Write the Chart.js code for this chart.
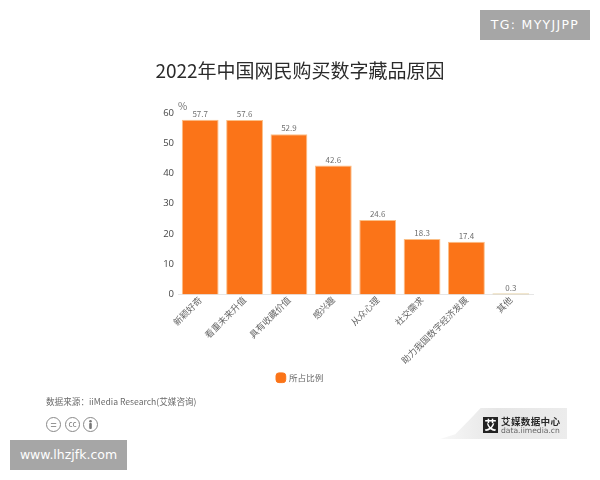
<!DOCTYPE html>
<html>
<head>
<meta charset="utf-8">
<script src="https://cdn.jsdelivr.net/npm/chart.js@4.4.1/dist/chart.umd.min.js"></script>
<style>
  html, body { margin: 0; padding: 0; background: #fff; }
  #page { position: relative; width: 600px; height: 480px; overflow: hidden; font-family: "Noto Sans CJK SC", sans-serif; }
  #chart { position: absolute; left: 0; top: 0; width: 600px; height: 480px; filter: blur(0.3px); }
  .mark { position: absolute; background: #a6a6a6; color: #fff; text-align: center; font-family: "DejaVu Sans", sans-serif; }
  #tg { left: 480px; top: 10px; width: 110px; height: 30px; line-height: 30px; font-size: 12.5px; letter-spacing: 1.3px; }
  #site { left: 10px; top: 440px; width: 117px; height: 30px; line-height: 29px; font-size: 12.5px; }
  #source { position: absolute; left: 46px; top: 394px; font-size: 8.6px; line-height: 14px; color: #6b6b6b; white-space: nowrap; }
  .cc { position: absolute; top: 417px; width: 13px; height: 13px; border: 1px solid #888; border-radius: 50%; color: #777; font-size: 8px; line-height: 12px; text-align: center; }
  #logoBg { position: absolute; left: 440px; top: 408px; width: 127px; height: 31px;
    background: linear-gradient(90deg, #f8f8f8, #e6e6e6 45%, #ececec);
    clip-path: polygon(0 100%, 12% 85%, 24% 35%, 32% 0, 100% 0, 100% 100%); }
  #logoIcon { position: absolute; left: 483px; top: 417px; width: 15px; height: 16px; background: #222; color: #fff; font-size: 12px; font-weight: 700; line-height: 16px; text-align: center; }
  #logoName { position: absolute; left: 501px; top: 416px; font-size: 9.6px; font-weight: 700; line-height: 11px; color: #2a2a2a; letter-spacing: 0.3px; white-space: nowrap; }
  #logoUrl { position: absolute; left: 501px; top: 426px; font-size: 7.6px; line-height: 9px; color: #666; font-family: "DejaVu Sans", sans-serif; white-space: nowrap; }
</style>
</head>
<body>
<div id="page">
  <canvas id="chart" width="600" height="480"></canvas>
  <div class="mark" id="tg">TG: MYYJJPP</div>
  <div class="mark" id="site">www.lhzjfk.com</div>
  <div id="source">数据来源：iiMedia Research(艾媒咨询)</div>
  <div class="cc" style="left:46px;font-size:11px">=</div>
  <div class="cc" style="left:65px">cc</div>
  <div class="cc" style="left:83px">
    <svg width="13" height="13" viewBox="0 0 14 14"><circle cx="7" cy="3.5" r="1.4" fill="#777"/><rect x="5.6" y="5.3" width="2.8" height="6.5" rx="1" fill="#777"/></svg>
  </div>
  <div id="logoBg"></div>
  <div id="logoIcon">艾</div>
  <div id="logoName">艾媒数据中心</div>
  <div id="logoUrl">data.iimedia.cn</div>
</div>
<script>
const categories = ["新颖好奇", "看重未来升值", "具有收藏价值", "感兴趣", "从众心理", "社交需求", "助力我国数字经济发展", "其他"];
const shareValues = [57.7, 57.6, 52.9, 42.6, 24.6, 18.3, 17.4, 0.3];
const yTicks = [0, 10, 20, 30, 40, 50, 60];

const fontFamily = '"Noto Sans CJK SC", sans-serif';

// value labels above the bars plus the % unit over the y axis
const barLabels = {
  id: "barLabels",
  afterDatasetsDraw(chart) {
    const { ctx, chartArea } = chart;
    const meta = chart.getDatasetMeta(0);
    ctx.save();
    ctx.font = `8px ${fontFamily}`;
    ctx.fillStyle = "#6f6f6f";
    ctx.textAlign = "center";
    ctx.textBaseline = "bottom";
    meta.data.forEach((bar, idx) => {
      ctx.fillText(shareValues[idx].toFixed(1), bar.x, bar.y - 2);
    });
    ctx.font = `10px ${fontFamily}`;
    ctx.textAlign = "left";
    ctx.textBaseline = "middle";
    ctx.fillText("%", chartArea.left, chartArea.top - 7);
    ctx.restore();
  },
};

new Chart(document.getElementById("chart"), {
  type: "bar",
  data: {
    labels: categories,
    datasets: [
      {
        label: "所占比例",
        data: shareValues,
        backgroundColor: (ctx) => (ctx.raw < 1 ? "#c9a040" : "#fb7418"),
        borderColor: (ctx) => (ctx.raw < 1 ? "#c9a040" : "#fbbf87"),
        borderWidth: 1,
        barPercentage: 0.83,
        categoryPercentage: 1,
      },
    ],
  },
  options: {
    responsive: false,
    animation: false,
    devicePixelRatio: 1,
    layout: {
      padding: { left: 67, right: 67, top: 59, bottom: 88 },
    },
    plugins: {
      title: {
        display: true,
        text: "2022年中国网民购买数字藏品原因",
        color: "#2b2b2b",
        font: { family: fontFamily, size: 19, weight: "normal" },
        padding: { top: 0, bottom: 31 },
      },
      legend: {
        position: "bottom",
        labels: {
          usePointStyle: true,
          pointStyle: "rectRounded",
          boxWidth: 8,
          boxHeight: 8,
          color: "#666",
          font: { family: fontFamily, size: 8.5 },
          generateLabels: (chart) => [
            { text: "所占比例", fillStyle: "#fb7418", strokeStyle: "#fb7418", fontColor: "#666", pointStyle: "rectRounded", datasetIndex: 0 },
          ],
          padding: 8,
        },
      },
      tooltip: { enabled: false },
    },
    scales: {
      x: {
        grid: { display: false, drawTicks: false },
        border: { color: "#e6e6e6" },
        afterFit: (scale) => {
          scale.height = 71;
        },
        ticks: {
          autoSkip: false,
          minRotation: 45,
          maxRotation: 45,
          padding: 0,
          color: "#666",
          font: { family: fontFamily, size: 9 },
        },
      },
      y: {
        min: 0,
        max: 60,
        afterBuildTicks: (scale) => {
          scale.ticks = yTicks.map((value) => ({ value }));
        },
        afterFit: (scale) => {
          scale.width = 111;
        },
        grid: { display: false, drawTicks: false },
        border: { display: false },
        ticks: {
          padding: 4,
          color: "#444",
          font: { family: '"Open Sans", sans-serif', size: 9.5 },
        },
      },
    },
  },
  plugins: [barLabels],
});
</script>
</body>
</html>
